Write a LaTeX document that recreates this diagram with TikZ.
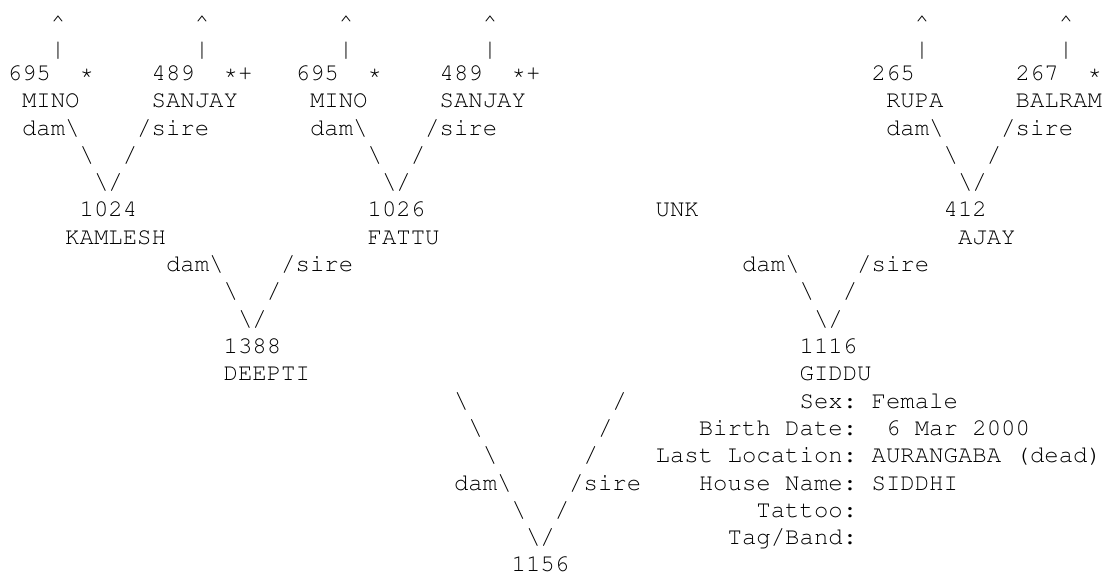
\documentclass[tikz,border=0pt]{standalone}
\usepackage[T1]{fontenc}
\usepackage{courier}
\newcommand\pedtok[4]{%
  \node[tok] (#1) at ({7.6pt+#2*14.4pt},{-80.5pt-(#3-3)*27.3pt}) {#4};}
\newcommand\bs{\textbackslash}
\newcommand\st{\raisebox{1.5pt}{*}}
\begin{document}
\begin{tikzpicture}[
  tok/.style={anchor=base west, inner sep=0pt, outer sep=0pt,
    font=\ttfamily\fontsize{24pt}{27.3pt}\selectfont\frenchspacing, text=black}]
\fill[white] (0,0) rectangle (1107pt,-577pt);
\useasboundingbox (0,0) rectangle (1107pt,-577pt);
% line 1: arrows up
\pedtok{up1}{3}{1.18}{\textasciicircum}
\pedtok{up2}{13}{1.18}{\textasciicircum}
\pedtok{up3}{23}{1.18}{\textasciicircum}
\pedtok{up4}{33}{1.18}{\textasciicircum}
\pedtok{up5}{63}{1.18}{\textasciicircum}
\pedtok{up6}{73}{1.18}{\textasciicircum}
% line 2: bars
\pedtok{bar1}{3}{2.12}{\textbar}
\pedtok{bar2}{13}{2.12}{\textbar}
\pedtok{bar3}{23}{2.12}{\textbar}
\pedtok{bar4}{33}{2.12}{\textbar}
\pedtok{bar5}{63}{2.12}{\textbar}
\pedtok{bar6}{73}{2.12}{\textbar}
% line 3: ids of great-grandparents
\pedtok{g1}{0}{3}{695}
\pedtok{g1s}{5}{3}{\st}
\pedtok{g2}{10}{3}{489}
\pedtok{g2s}{15}{3}{\st+}
\pedtok{g3}{20}{3}{695}
\pedtok{g3s}{25}{3}{\st}
\pedtok{g4}{30}{3}{489}
\pedtok{g4s}{35}{3}{\st+}
\pedtok{g7}{60}{3}{265}
\pedtok{g8}{70}{3}{267}
\pedtok{g8s}{75}{3}{\st}
% line 4: names
\pedtok{n1}{1}{4}{MINO}
\pedtok{n2}{10}{4}{SANJAY}
\pedtok{n3}{21}{4}{MINO}
\pedtok{n4}{30}{4}{SANJAY}
\pedtok{n7}{61}{4}{RUPA}
\pedtok{n8}{70}{4}{BALRAM}
% line 5: dam / sire
\pedtok{d1}{1}{5}{dam\bs}
\pedtok{s1}{9}{5}{/sire}
\pedtok{d2}{21}{5}{dam\bs}
\pedtok{s2}{29}{5}{/sire}
\pedtok{d4}{61}{5}{dam\bs}
\pedtok{s4}{69}{5}{/sire}
% line 6
\pedtok{la1}{5}{6}{\bs}
\pedtok{ra1}{8}{6}{/}
\pedtok{la2}{25}{6}{\bs}
\pedtok{ra2}{28}{6}{/}
\pedtok{la4}{65}{6}{\bs}
\pedtok{ra4}{68}{6}{/}
% line 7
\pedtok{v1}{6}{7}{\bs/}
\pedtok{v2}{26}{7}{\bs/}
\pedtok{v4}{66}{7}{\bs/}
% line 8: grandparents ids
\pedtok{p1}{5}{8}{1024}
\pedtok{p2}{25}{8}{1026}
\pedtok{p3}{45}{8}{UNK}
\pedtok{p4}{65}{8}{412}
% line 9
\pedtok{pn1}{4}{9}{KAMLESH}
\pedtok{pn2}{25}{9}{FATTU}
\pedtok{pn4}{66}{9}{AJAY}
% line 10
\pedtok{d5}{11}{10}{dam\bs}
\pedtok{s5}{19}{10}{/sire}
\pedtok{d6}{51}{10}{dam\bs}
\pedtok{s6}{59}{10}{/sire}
% line 11
\pedtok{lb5}{15}{11}{\bs}
\pedtok{rb5}{18}{11}{/}
\pedtok{lb6}{55}{11}{\bs}
\pedtok{rb6}{58}{11}{/}
% line 12
\pedtok{v5}{16}{12}{\bs/}
\pedtok{v6}{56}{12}{\bs/}
% line 13-14: parents
\pedtok{q1}{15}{13}{1388}
\pedtok{q2}{55}{13}{1116}
\pedtok{qn1}{15}{14}{DEEPTI}
\pedtok{qn2}{55}{14}{GIDDU}
% lines 15-17: long diagonals and details
\pedtok{lc1}{31}{15}{\bs}
\pedtok{rc1}{42}{15}{/}
\pedtok{k1}{55}{15}{Sex:}
\pedtok{val1}{60}{15}{Female}
\pedtok{lc2}{32}{16}{\bs}
\pedtok{rc2}{41}{16}{/}
\pedtok{k2}{48}{16}{Birth Date:}
\pedtok{val2}{61}{16}{6 Mar 2000}
\pedtok{lc3}{33}{17}{\bs}
\pedtok{rc3}{40}{17}{/}
\pedtok{k3}{45}{17}{Last Location:}
\pedtok{val3}{60}{17}{AURANGABA (dead)}
% line 18
\pedtok{d7}{31}{18}{dam\bs}
\pedtok{s7}{39}{18}{/sire}
\pedtok{k4}{48}{18}{House Name:}
\pedtok{val4}{60}{18}{SIDDHI}
% line 19
\pedtok{lc7}{35}{19}{\bs}
\pedtok{rc7}{38}{19}{/}
\pedtok{k5}{52}{19}{Tattoo:}
% line 20
\pedtok{v7}{36}{20}{\bs/}
\pedtok{k6}{50}{20}{Tag/Band:}
% line 21
\pedtok{self}{35}{21}{1156}
\end{tikzpicture}
\end{document}
